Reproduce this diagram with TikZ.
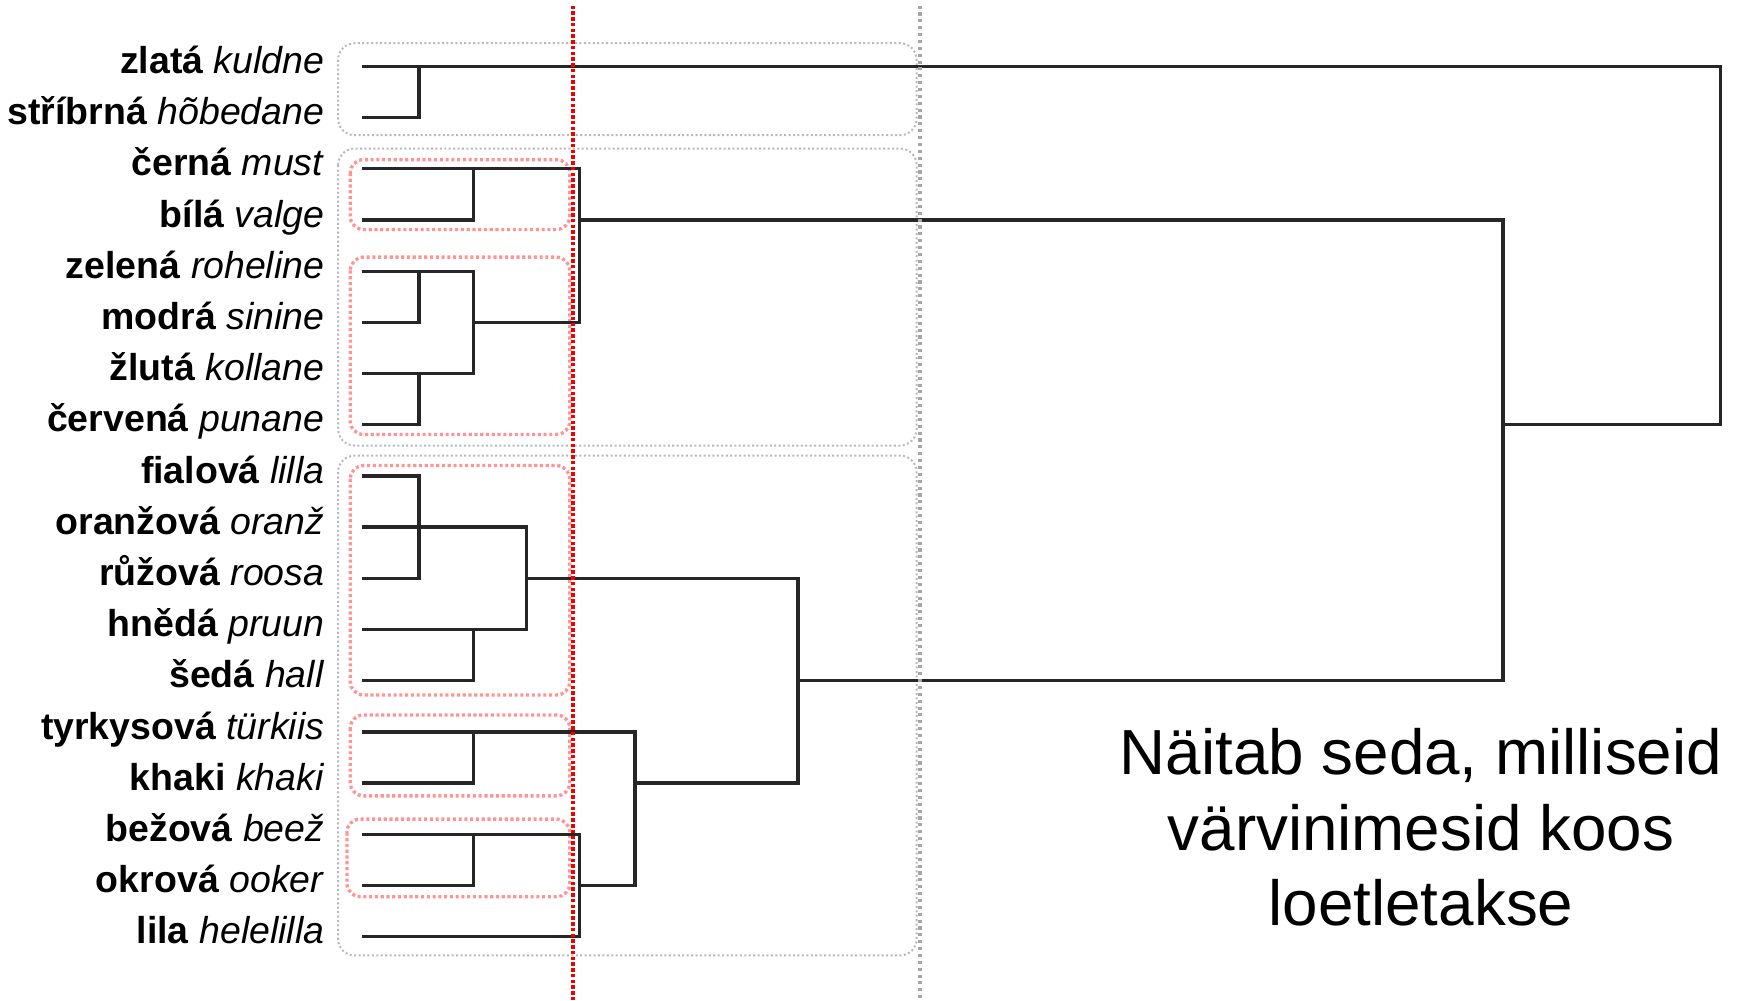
\documentclass[tikz,border=0pt]{standalone}
\usepackage{fontspec}
\setmainfont{Liberation Sans}
\begin{document}
\begin{tikzpicture}[x=0.5pt,y=-0.5pt,
  lab/.style={anchor=base east,inner sep=0pt,font=\fontsize{16.9}{20}\selectfont},
  big/.style={anchor=base,inner sep=0pt,font=\fontsize{28.75}{34}\selectfont},
  tree/.style={line width=1.6pt,black!85,line cap=rect,line join=miter},
  graybox/.style={draw=black!28,line width=0.9pt,dash pattern=on 0.9pt off 1.1pt,rounded corners=7.5pt},
  pinkbox/.style={draw=red!42,line width=1.5pt,dash pattern=on 1.4pt off 1.2pt,rounded corners=6pt},
  redline/.style={draw=red!95!black,line width=1.8pt,dash pattern=on 1.6pt off 1pt},
  grayline/.style={draw=black!35,line width=1.6pt,dash pattern=on 1.4pt off 1.7pt}]
\useasboundingbox (0,0) rectangle (1568,903);

% group boxes
\draw[graybox] (305,39) rectangle (827,122);
\draw[graybox] (305,134) rectangle (827,402);
\draw[graybox] (305,411) rectangle (827,862);
\draw[pinkbox] (316,144) rectangle (514,207);
\draw[pinkbox] (316,232) rectangle (514,392);
\draw[pinkbox] (316,420) rectangle (514,627);
\draw[pinkbox] (316,645) rectangle (514,718);
\draw[pinkbox] (313,739) rectangle (514,809);

% labels
\node[lab] (lab0) at (293,66.5) {\textbf{zlatá} \textit{kuldne}};
\node[lab] (lab1) at (293,112.5) {\textbf{stříbrná} \textit{hõbedane}};
\node[lab] (lab2) at (293,158.5) {\textbf{černá} \textit{must}};
\node[lab] (lab3) at (293,205) {\textbf{bílá} \textit{valge}};
\node[lab] (lab4) at (293,251.5) {\textbf{zelená} \textit{roheline}};
\node[lab] (lab5) at (293,297.5) {\textbf{modrá} \textit{sinine}};
\node[lab] (lab6) at (293,343.5) {\textbf{žlutá} \textit{kollane}};
\node[lab] (lab7) at (293,389.5) {\textbf{červená} \textit{punane}};
\node[lab] (lab8) at (293,436) {\textbf{fialová} \textit{lilla}};
\node[lab] (lab9) at (293,482) {\textbf{oranžová} \textit{oranž}};
\node[lab] (lab10) at (293,528.5) {\textbf{růžová} \textit{roosa}};
\node[lab] (lab11) at (293,574.5) {\textbf{hnědá} \textit{pruun}};
\node[lab] (lab12) at (293,620.5) {\textbf{šedá} \textit{hall}};
\node[lab] (lab13) at (293,667) {\textbf{tyrkysová} \textit{türkiis}};
\node[lab] (lab14) at (293,713) {\textbf{khaki} \textit{khaki}};
\node[lab] (lab15) at (293,759.5) {\textbf{bežová} \textit{beež}};
\node[lab] (lab16) at (293,805.5) {\textbf{okrová} \textit{ooker}};
\node[lab] (lab17) at (293,851.5) {\textbf{lila} \textit{helelilla}};

% leaf coordinates
\coordinate (l0) at (328,60);
\coordinate (l1) at (328,106);
\coordinate (l2) at (328,152);
\coordinate (l3) at (328,198.5);
\coordinate (l4) at (328,245);
\coordinate (l5) at (328,291);
\coordinate (l6) at (328,337);
\coordinate (l7) at (328,383);
\coordinate (l8) at (328,429.5);
\coordinate (l9) at (328,475.5);
\coordinate (l10) at (328,522);
\coordinate (l11) at (328,568);
\coordinate (l12) at (328,614);
\coordinate (l13) at (328,660.5);
\coordinate (l14) at (328,706.5);
\coordinate (l15) at (328,753);
\coordinate (l16) at (328,799);
\coordinate (l17) at (328,845);
% merge levels
\coordinate (xa) at (378,0);
\coordinate (xb) at (427,0);
\coordinate (xc) at (475,0);
\coordinate (xd) at (523,0);
\coordinate (xe) at (573,0);
\coordinate (xf) at (720,0);
\coordinate (xg) at (1356,0);
\coordinate (xh) at (1552,0);
\coordinate (mid1) at (0,383);

% dendrogram
\draw[tree] (l0) -- (l0 -| xh) -- (mid1 -| xh) -- (mid1 -| xg);
\draw[tree] (l1) -- (l1 -| xa) -- (l0 -| xa);
\draw[tree] (l3 -| xd) -- (l3 -| xg) -- (l12 -| xg) -- (l12 -| xf);
\draw[tree] (l2) -- (l2 -| xd) -- (l5 -| xd) -- (l5 -| xb);
\draw[tree] (l3) -- (l3 -| xb) -- (l2 -| xb);
\draw[tree] (l4) -- (l4 -| xb) -- (l6 -| xb) -- (l6);
\draw[tree] (l5) -- (l5 -| xa) -- (l4 -| xa);
\draw[tree] (l7) -- (l7 -| xa) -- (l6 -| xa);
\draw[tree] (l8) -- (l8 -| xa) -- (l10 -| xa) -- (l10);
\draw[tree] (l9) -- (l9 -| xc) -- (l11 -| xc) -- (l11);
\draw[tree] (l12) -- (l12 -| xb) -- (l11 -| xb);
\draw[tree] (l10 -| xc) -- (l10 -| xf) -- (l14 -| xf) -- (l14 -| xe);
\draw[tree] (l13) -- (l13 -| xe) -- (l16 -| xe) -- (l16 -| xd);
\draw[tree] (l14) -- (l14 -| xb) -- (l13 -| xb);
\draw[tree] (l15) -- (l15 -| xd) -- (l17 -| xd) -- (l17);
\draw[tree] (l16) -- (l16 -| xb) -- (l15 -| xb);

% cut lines
\coordinate (gt) at (830,5);
\coordinate (gb) at (830,903);
\coordinate (rt) at (517,5);
\coordinate (rb) at (517,903);
\draw[grayline] (gt) -- (gb);
\draw[redline] (rt) -- (rb);

% caption
\node[big] (t1) at (1282,699) {Näitab seda, milliseid};
\node[big] (t2) at (1282,767) {värvinimesid koos};
\node[big] (t3) at (1282,835) {loetletakse};
\end{tikzpicture}
\end{document}
